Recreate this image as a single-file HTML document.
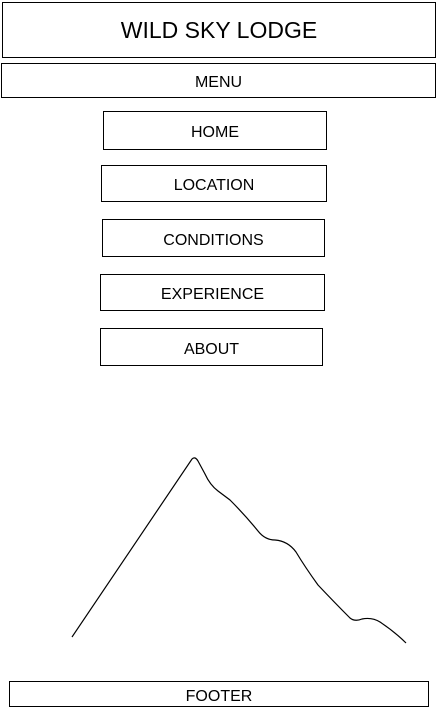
<!DOCTYPE html>
<html><head><meta charset="utf-8"><style>
html,body{margin:0;padding:0;background:#fff;width:439px;height:714px;overflow:hidden;position:relative;font-family:"Liberation Sans",sans-serif;color:#000}
.b{position:absolute;box-sizing:border-box;border:1px solid #000;display:flex;align-items:center;justify-content:center;font-size:16px;padding-top:5px}
</style></head><body>
<div class="b" style="left:2px;top:2px;width:434px;height:56px;font-size:23px;padding-top:0">WILD SKY LODGE</div>
<div class="b" style="left:1px;top:63px;width:435px;height:35px">MENU</div>
<div class="b" style="left:103px;top:111px;width:224px;height:39px">HOME</div>
<div class="b" style="left:101px;top:165px;width:226px;height:37px">LOCATION</div>
<div class="b" style="left:102px;top:219px;width:223px;height:38px">CONDITIONS</div>
<div class="b" style="left:100px;top:274px;width:225px;height:37px">EXPERIENCE</div>
<div class="b" style="left:100px;top:328px;width:223px;height:38px;padding-top:6px">ABOUT</div>
<div class="b" style="left:9px;top:681px;width:420px;height:26px">FOOTER</div>
<svg style="position:absolute;left:0;top:0" width="439" height="714">
<path d="M72,637 L192,459 Q195,456 198,461 L205,474 Q210,485 218,491 L230,500 Q245,515 258,531 Q265,540 275,540 Q288,541 296,552 Q305,567 318,585 Q335,603 350,618 Q355,622 362,619 Q372,617 380,622 Q395,632 406,643" fill="none" stroke="#000" stroke-width="1.2"/>
</svg>
</body></html>
